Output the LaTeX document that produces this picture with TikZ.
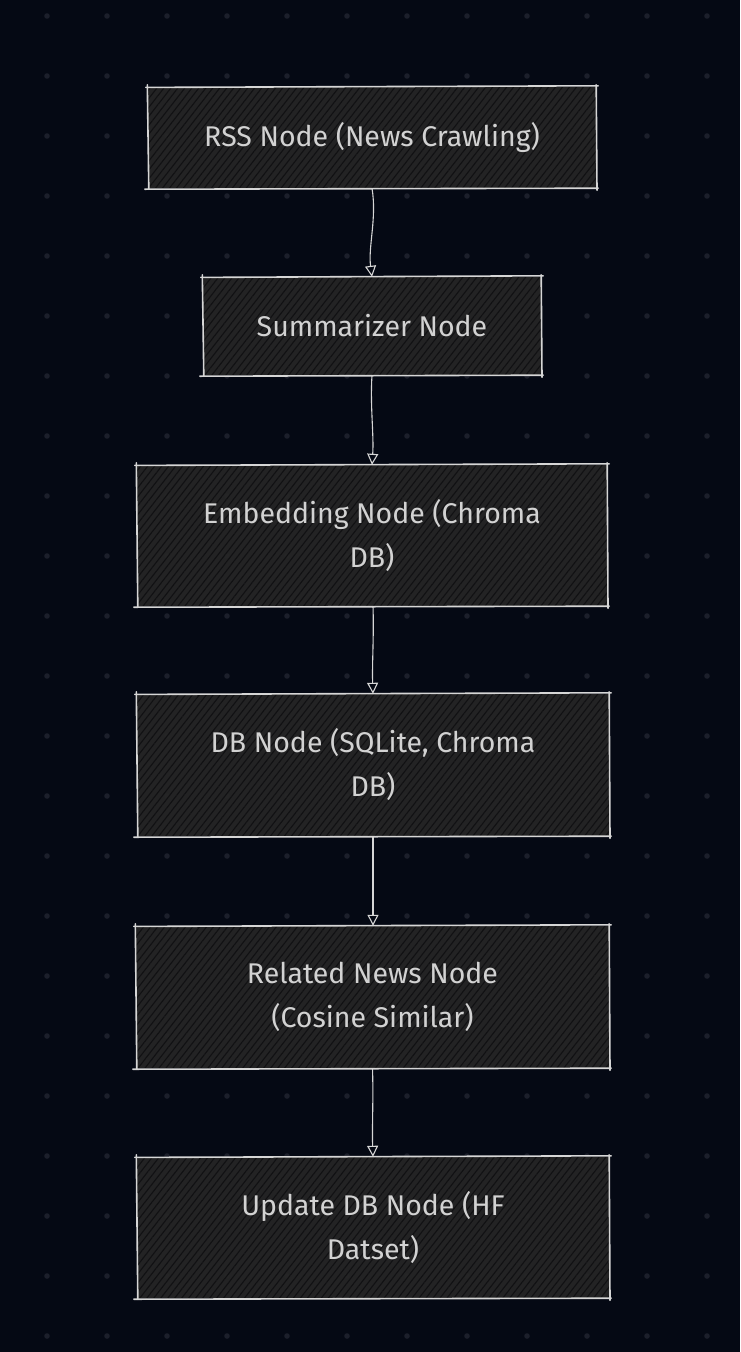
\documentclass[tikz,border=0pt]{standalone}
\usepackage{fontspec}
\setmainfont{Fira Sans}
\usetikzlibrary{arrows.meta,patterns.meta,calc}
\definecolor{bg}{HTML}{050914}
\definecolor{dotc}{HTML}{1C1F2B}
\definecolor{boxfill}{HTML}{262626}
\definecolor{hatch}{HTML}{111113}
\definecolor{edgec}{HTML}{D6D6D6}
\definecolor{txt}{HTML}{D2D2D2}
\tikzset{
  hatchfill/.style={pattern={Lines[angle=52,distance=5.5pt,line width=1.1pt]}, pattern color=hatch},
  box/.style={draw=none, fill=boxfill, fill opacity=0.92, text opacity=1,
    inner sep=0pt, text=txt, align=center,
    font=\fontsize{28.5}{44}\selectfont,
    path picture={\fill[hatchfill, fill opacity=1] (path picture bounding box.south west) rectangle (path picture bounding box.north east);}},
  edge/.style={draw=edgec, line width=1.6pt, line cap=round},
  arr/.style={draw=edgec, line width=1.1pt, -{Triangle[open,length=11pt,width=11pt,line width=1.1pt]}},
}
\newcommand\roughbox[1]{%
  \draw[edge] ($(#1.north west)+(-2,0.6)$) -- ($(#1.north east)+(2,-1)$);
  \draw[edge] ($(#1.north east)+(0,-2)$) -- ($(#1.south east)+(0.8,2)$);
  \draw[edge] ($(#1.south east)+(2,0)$) -- ($(#1.south west)+(-3,1)$);
  \draw[edge] ($(#1.south west)+(1,1)$) -- ($(#1.north west)+(-0.5,-2)$);
}
\begin{document}
\begin{tikzpicture}[x=1pt,y=-1pt]
\fill[bg] (0,0) rectangle (740,1352);
\useasboundingbox (0,0) rectangle (740,1352);
\foreach \i in {0,...,11}{
  \foreach \j in {0,...,22}{
    \fill[dotc] (47+60*\i,16+60*\j) circle (2.8);
  }
}
\node[box, minimum width=448pt, minimum height=101pt] (rss) at (372,137.5) {RSS Node (News Crawling)};
\node[box, minimum width=338pt, minimum height=98pt] (sum) at (372,326) {Summarizer Node};
\node[box, minimum width=470pt, minimum height=141pt] (emb) at (372,535.5) {Embedding Node (Chroma\\DB)};
\node[box, minimum width=472pt, minimum height=142pt] (db) at (373,765) {DB Node (SQLite, Chroma\\DB)};
\node[box, minimum width=473pt, minimum height=142pt] (rel) at (372.5,997) {Related News Node\\(Cosine Similar)};
\node[box, minimum width=472pt, minimum height=141pt] (upd) at (373,1227.5) {Update DB Node (HF\\Datset)};
\foreach \n in {rss,sum,emb,db,rel,upd}{\roughbox{\n}}
\draw[arr] (rss.south) .. controls +(5,30) and +(-4,-30) .. (sum.north);
\draw[arr] (sum.south) .. controls +(-2,30) and +(2,-30) .. (emb.north);
\draw[arr] ($(emb.south)+(1,0)$) .. controls +(1,30) and +(-1,-30) .. (db.north);
\draw[arr] (db.south) .. controls +(0,30) and +(0,-30) .. ($(rel.north)+(0.5,0)$);
\draw[arr] (rel.south) .. controls +(1,30) and +(-1,-30) .. (upd.north);
\end{tikzpicture}
\end{document}
